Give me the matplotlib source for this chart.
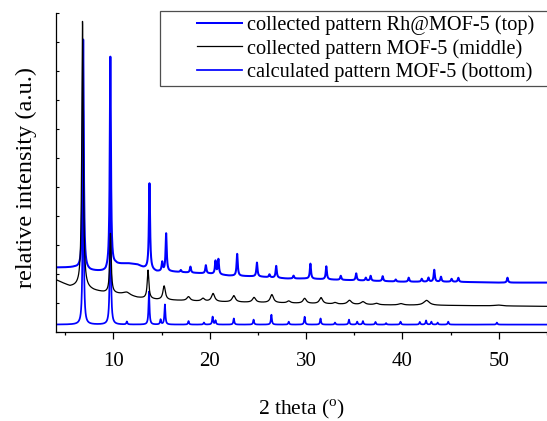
import numpy as np
import matplotlib
matplotlib.use("Agg")
import matplotlib.pyplot as plt
from matplotlib.legend_handler import HandlerLine2D
from matplotlib.ticker import MultipleLocator, NullFormatter

plt.rcParams['font.family'] = ['Liberation Serif', 'DejaVu Serif']
plt.rcParams['mathtext.fontset'] = 'custom'
plt.rcParams['mathtext.rm'] = 'Liberation Serif'

# ---------------- data ----------------
two_theta = np.arange(4.0, 55.0001, 0.01)

labels = ["collected pattern Rh@MOF-5 (top)",
          "collected pattern MOF-5 (middle)",
          "calculated pattern MOF-5 (bottom)"]

# top: collected Rh@MOF-5 -- baseline control points and peaks
top_base_x = [4, 6, 7.6, 9.2, 10.2, 11.5, 12.5, 13.1, 14.5, 16, 18, 20, 22, 25, 28, 30, 33, 36, 40, 45, 50, 55]
top_base_y = [2.21, 2.21, 2.10, 2.07, 2.31, 2.35, 2.31, 2.21, 2.07, 2.07, 2.03, 2.00, 1.93, 1.90, 1.83, 1.83, 1.79, 1.76, 1.72, 1.72, 1.69, 1.69]
top_pos = [6.87, 9.69, 13.75, 15.07, 15.48, 17.0, 18.0, 19.6, 20.6, 20.9, 22.85, 24.9, 26.2, 26.9, 28.7,
           30.45, 32.1, 33.6, 35.2, 36.2, 36.7, 37.95, 39.3, 40.65, 42.0, 42.7, 43.3, 44.0, 45.1, 45.8, 50.9]
top_hgt = [7.93, 7.30, 2.97, 0.31, 1.31, 0.07, 0.21, 0.28, 0.45, 0.52, 0.76, 0.48, 0.10, 0.41, 0.10,
           0.52, 0.45, 0.14, 0.24, 0.10, 0.17, 0.17, 0.07, 0.14, 0.10, 0.14, 0.41, 0.17, 0.10, 0.14, 0.17]
top_hwhm = 0.07

# middle: collected MOF-5
mid_base_x = [4, 5.5, 6.3, 8, 9, 11, 12.5, 14.5, 17, 20, 25, 30, 35, 40, 45, 55]
mid_base_y = [1.79, 1.55, 1.55, 1.41, 1.35, 1.28, 1.17, 1.10, 1.07, 1.03, 1.00, 0.97, 0.93, 0.91, 0.90, 0.87]
mid_pos = [6.80, 9.70, 11.4, 13.6, 15.27, 17.8, 19.3, 20.35, 22.5, 24.6, 26.45, 28.2, 29.85, 31.55,
           33.0, 34.5, 35.9, 37.3, 39.85, 42.5, 49.9]
mid_hgt = [9.20, 2.05, 0.10, 0.98, 0.48, 0.14, 0.10, 0.28, 0.22, 0.17, 0.28, 0.07, 0.17, 0.21,
           0.05, 0.14, 0.10, 0.05, 0.05, 0.17, 0.03]
mid_hwhm = [0.09, 0.09, 0.4, 0.1, 0.15, 0.2, 0.2, 0.2, 0.2, 0.2, 0.2, 0.2, 0.2, 0.2,
            0.2, 0.25, 0.25, 0.25, 0.3, 0.35, 0.4]

# bottom: calculated MOF-5
bot_base = 0.24
bot_pos = [6.87, 9.69, 11.4, 13.7, 14.9, 15.35, 17.8, 19.4, 20.3, 20.6, 22.5, 24.55, 26.4, 28.2,
           29.85, 31.5, 33.0, 34.45, 35.3, 35.9, 37.2, 38.3, 39.8, 41.8, 42.45, 43.0, 43.65, 44.75, 49.8]
bot_hgt = [7.40, 5.00, 0.10, 1.14, 0.17, 0.69, 0.12, 0.07, 0.27, 0.14, 0.21, 0.17, 0.34, 0.10,
           0.27, 0.21, 0.07, 0.17, 0.10, 0.12, 0.09, 0.05, 0.10, 0.09, 0.14, 0.10, 0.07, 0.10, 0.07]
bot_hwhm = 0.06


def pattern(x, base, pos, hgt, hwhm):
    y = np.array(base, dtype=float) * np.ones_like(x)
    w = np.broadcast_to(np.asarray(hwhm, dtype=float), (len(pos),))
    for p, h, g in zip(pos, hgt, w):
        y += h / (1.0 + ((x - p) / g) ** 2)
    return y


y_top = pattern(two_theta, np.interp(two_theta, top_base_x, top_base_y), top_pos, top_hgt, top_hwhm)
y_mid = pattern(two_theta, np.interp(two_theta, mid_base_x, mid_base_y), mid_pos, mid_hgt, mid_hwhm)
y_bot = pattern(two_theta, bot_base, bot_pos, bot_hgt, bot_hwhm)

# ---------------- figure ----------------
fig = plt.figure(figsize=(5.47, 4.21), dpi=100)
ax = fig.add_axes([0.1015, 0.2125, 0.8985, 0.7565])

l_bot, = ax.plot(two_theta, y_bot, color='#0000FF', lw=1.25)
l_top, = ax.plot(two_theta, y_top, color='#0000FF', lw=1.45)
l_mid, = ax.plot(two_theta, y_mid, color='black', lw=0.9)

ax.set_xlim(4, 55)
ax.set_ylim(0, 11)

ax.spines['top'].set_visible(False)
ax.spines['right'].set_visible(False)
ax.spines['left'].set_linewidth(0.9)
ax.spines['bottom'].set_linewidth(0.9)

ax.xaxis.set_major_locator(MultipleLocator(10))
ax.xaxis.set_minor_locator(MultipleLocator(5))
ax.tick_params(axis='x', which='major', direction='out', length=5, width=0.9,
               labelsize=15, pad=9.5)
ax.tick_params(axis='x', which='minor', direction='out', length=2.5, width=0.9)

ax.yaxis.set_major_locator(MultipleLocator(1))
ax.yaxis.set_major_formatter(NullFormatter())
ax.tick_params(axis='y', which='major', direction='in', length=2.5, width=0.8)

ax.set_xlabel('2 theta ($^{\\rm o}$)', fontsize=15.5, labelpad=19.5)
ax.set_ylabel('relative intensity (a.u.)', fontsize=17.5)
ax.yaxis.set_label_coords(-0.038, 0.483)


class ShiftedLine(HandlerLine2D):
    def get_xdata(self, legend, xdescent, ydescent, width, height, fontsize):
        xd = np.array([-xdescent + 0.42 * width, -xdescent + width])
        return xd, xd


leg_x0 = 160 / 547
leg_top = 1 - 11 / 421
leg = ax.legend([l_top, l_mid, l_bot], labels, loc='upper left', mode='expand',
                bbox_to_anchor=(leg_x0, 0.5, 1.015 - leg_x0, leg_top - 0.5),
                bbox_transform=fig.transFigure,
                fontsize=14.6, frameon=True, fancybox=False, edgecolor='#222222',
                handlelength=3.8, handletextpad=0.25, borderpad=0.22,
                labelspacing=0.18, borderaxespad=0.0,
                handler_map={l_top: ShiftedLine(), l_mid: ShiftedLine(), l_bot: ShiftedLine()})
leg.get_frame().set_linewidth(0.9)

fig.savefig('out.png', dpi=100)
